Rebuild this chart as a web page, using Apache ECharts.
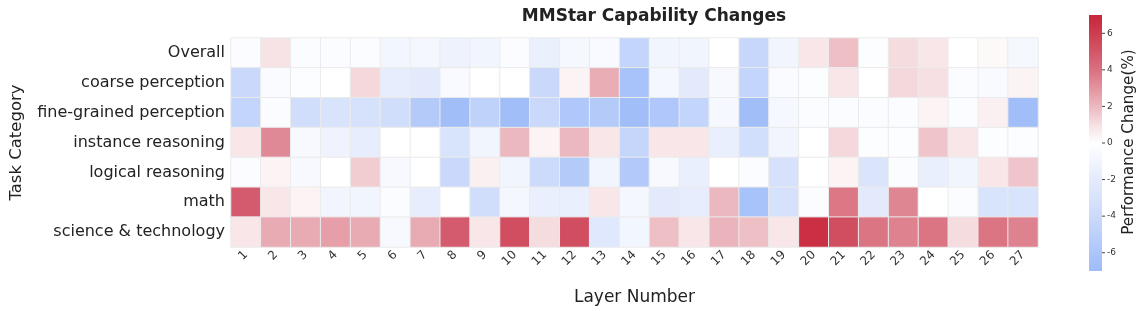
<!DOCTYPE html>
<html>
<head>
<meta charset="utf-8">
<script src="https://cdn.jsdelivr.net/npm/echarts@6/dist/echarts.min.js"></script>
<style>
html,body{margin:0;padding:0;background:#fff;}
#chart{width:1142px;height:311px;}
</style>
</head>
<body>
<div id="chart"></div>
<script>
const layers = ['1','2','3','4','5','6','7','8','9','10','11','12','13','14','15','16','17','18','19','20','21','22','23','24','25','26','27'];
const categories = ['Overall','coarse perception','fine-grained perception','instance reasoning','logical reasoning','math','science & technology'];

const overall = [-0.3,0.9,-0.3,-0.3,-0.3,-0.9,-0.8,-1.3,-1.0,-0.3,-1.5,-0.7,-0.5,-4.5,-1.0,-1.0,0,-4.3,-1.0,0.8,1.8,-0.2,1.1,0.8,0,0.2,-0.7];
const coarse = [-4.2,-0.4,-0.2,0,1.2,-1.8,-2.1,-0.5,0,0,-4.2,0.4,2.3,-6.3,-0.8,-2.1,-0.6,-4.5,-0.4,-0.2,0.8,0,1.2,1.0,-0.3,-0.5,0.4];
const fineGrained = [-4.5,-0.3,-3.7,-3.0,-3.2,-3.6,-5.5,-6.8,-4.8,-6.8,-4.2,-5.8,-5.5,-6.8,-5.8,-4.5,-0.7,-6.8,-0.7,-0.3,-0.3,-0.3,-0.3,0.4,-0.3,0.5,-6.8];
const instance = [0.8,3.3,-0.6,-1.2,-1.8,0,0,-3.0,-1.0,2.0,0.4,2.0,0.8,-4.4,0.8,0.8,-1.6,-3.5,-1.0,0,1.2,-0.2,-0.2,1.7,0.8,-0.2,-0.2];
const logical = [-0.3,0.4,-0.6,0,1.5,-0.6,0,-4.2,0.5,-1.0,-4.0,-5.5,-1.0,-5.6,-0.6,-1.6,0,-0.3,-3.2,0,0.4,-2.8,-0.3,-1.6,-1.0,0.8,1.7];
const mathRow = [4.8,0.8,0.4,-1.0,-1.0,-0.3,-1.8,0,-3.7,-0.8,-1.6,-1.6,0.8,-0.8,-2.1,-1.8,2.0,-6.3,-3.2,-0.3,3.8,-2.1,3.4,0,-0.3,-3.0,-3.0];
const science = [0.8,2.4,2.4,2.7,2.4,-0.6,2.4,4.8,0.8,5.3,1.1,5.3,-2.4,-0.9,1.8,0.8,2.1,1.8,0.8,6.6,5.3,3.9,3.5,3.9,1.1,3.9,3.5];
const colorbarTicks = [6,4,2,0,-2,-4,-6];

const rows = [overall, coarse, fineGrained, instance, logical, mathRow, science];
const data = [];
rows.forEach((r, yi) => r.forEach((v, xi) => data.push([xi, yi, v])));

const colorStops = ['#9ebcf9','#acc5fa','#bcd0fa','#ccdafb','#d8e3fc','#e4ebfc','#f1f5fe','#ffffff',
                    '#f6e0e3','#ecb8bf','#e394a0','#da7080','#d35668','#cd3d50','#c8253b'];

const VMIN = -7, VMAX = 7;
const cbX = 1089, cbW = 13, cbTop = 15, cbH = 256;

const gr = [];
gr.push({
  type: 'rect', shape: {x: cbX, y: cbTop, width: cbW, height: cbH},
  style: {fill: new echarts.graphic.LinearGradient(0, 0, 0, 1,
    colorStops.slice().reverse().map((c, i) => ({offset: i / (colorStops.length - 1), color: c})))}
});
colorbarTicks.forEach(t => {
  const y = cbTop + (VMAX - t) / (VMAX - VMIN) * cbH;
  gr.push({type: 'line', shape: {x1: cbX + cbW, y1: y, x2: cbX + cbW + 3, y2: y}, style: {stroke: '#444', lineWidth: 1}});
  gr.push({type: 'text', x: cbX + cbW + 5, y: y, style: {text: String(t), fontFamily: 'DejaVu Sans', fontSize: 9, fill: '#333', verticalAlign: 'middle', align: 'left'}});
});
gr.push({type: 'text', x: 1129, y: 142, rotation: Math.PI/2, style: {text: 'Performance Change(%)', fontFamily: 'DejaVu Sans', fontSize: 15.2, fill: '#222', align: 'center', verticalAlign: 'middle'}});

const chart = echarts.init(document.getElementById('chart'));
chart.setOption({
  animation: false,
  textStyle: {fontFamily: 'DejaVu Sans'},
  title: {
    text: 'MMStar Capability Changes',
    left: 649, top: 3, textAlign: 'center',
    textStyle: {fontFamily: 'DejaVu Sans', fontWeight: 'bold', fontSize: 17, color: '#222'}
  },
  grid: {left: 228, right: 104, top: 38, height: 210, containLabel: false},
  xAxis: {
    type: 'category', data: layers,
    name: 'Layer Number', nameLocation: 'middle', nameGap: 42,
    nameTextStyle: {fontSize: 17, color: '#222'},
    axisLine: {show: false}, axisTick: {show: false}, splitLine: {show: false},
    axisLabel: {rotate: 45, fontSize: 12, color: '#333', margin: 6, interval: 0}
  },
  yAxis: {
    type: 'category', data: categories, inverse: true,
    name: 'Task Category', nameLocation: 'middle', nameGap: 206, nameRotate: 90,
    nameTextStyle: {fontSize: 16.5, color: '#222'},
    axisLine: {show: false}, axisTick: {show: false}, splitLine: {show: false},
    axisLabel: {fontSize: 16, color: '#222', margin: 6}
  },
  visualMap: {
    type: 'continuous', min: VMIN, max: VMAX, show: false,
    inRange: {color: colorStops}
  },
  series: [{
    type: 'heatmap', data: data,
    itemStyle: {borderColor: '#ebebeb', borderWidth: 1},
    emphasis: {disabled: true}
  }],
  graphic: gr
});
</script>
</body>
</html>
